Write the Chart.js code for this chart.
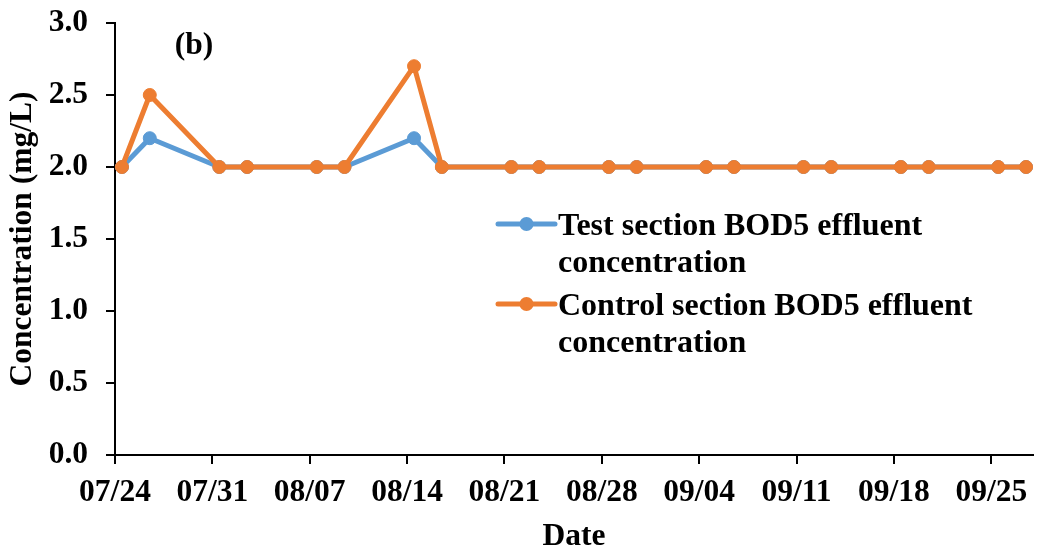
<!DOCTYPE html>
<html>
<head>
<meta charset="utf-8">
<script src="https://cdn.jsdelivr.net/npm/chart.js@4/dist/chart.umd.min.js"></script>
<style>
  html, body { margin: 0; padding: 0; background: #fff; }
  #wrap { width: 1041px; height: 553px; position: relative; }
</style>
</head>
<body>
<div id="wrap"><canvas id="c"></canvas></div>
<script>
// Sampling dates (MM/DD) and BOD5 effluent concentrations (mg/L)
const sampleDates = ['07/24', '07/26', '07/31', '08/02', '08/07', '08/09', '08/14', '08/16',
                     '08/21', '08/23', '08/28', '08/30', '09/04', '09/06', '09/11', '09/13',
                     '09/18', '09/20', '09/25', '09/27'];
const testBOD5    = [2.0, 2.2, 2.0, 2.0, 2.0, 2.0, 2.2, 2.0, 2.0, 2.0,
                     2.0, 2.0, 2.0, 2.0, 2.0, 2.0, 2.0, 2.0, 2.0, 2.0];
const controlBOD5 = [2.0, 2.5, 2.0, 2.0, 2.0, 2.0, 2.7, 2.0, 2.0, 2.0,
                     2.0, 2.0, 2.0, 2.0, 2.0, 2.0, 2.0, 2.0, 2.0, 2.0];

// Axis ticks
const dateTicks = ['07/24', '07/31', '08/07', '08/14', '08/21', '08/28', '09/04', '09/11', '09/18', '09/25'];
const axisStart = '07/24';
const axisEnd   = '09/28';
const concTicks = [0, 0.5, 1.0, 1.5, 2.0, 2.5, 3.0];

const seriesLabels = ['Test section BOD5 effluent concentration',
                      'Control section BOD5 effluent concentration'];
const panelLabel = '(b)';

// Days elapsed since the first axis date
function dayOf(md) {
  const [m, d] = md.split('/').map(Number);
  const [m0, d0] = axisStart.split('/').map(Number);
  return (Date.UTC(2020, m - 1, d) - Date.UTC(2020, m0 - 1, d0)) / 86400000;
}
// Each sample sits in the middle of its day slot
const toPoints = vals => vals.map((v, i) => ({ x: dayOf(sampleDates[i]) + 0.5, y: v }));

const FONT = "'Liberation Serif', 'Times New Roman', serif";
const BLUE = '#5B9BD5';
const ORANGE = '#ED7D31';
const LINE_W = 5;

// Two-line legend drawn inside the plot area
const boxLegend = {
  id: 'boxLegend',
  afterDraw(chart, args, opts) {
    const ctx = chart.ctx;
    ctx.save();
    ctx.font = `bold ${opts.size}px ${FONT}`;
    ctx.textAlign = 'left';
    ctx.textBaseline = 'alphabetic';
    let baseline = opts.top;
    chart.data.datasets.forEach(ds => {
      // wrap the label by words
      const words = ds.label.split(' ');
      const lines = [];
      let cur = '';
      words.forEach(w => {
        const t = cur ? cur + ' ' + w : w;
        if (ctx.measureText(t).width > opts.maxWidth && cur) { lines.push(cur); cur = w; }
        else cur = t;
      });
      if (cur) lines.push(cur);
      const my = baseline - opts.markerRise;
      ctx.strokeStyle = ds.borderColor;
      ctx.lineWidth = opts.lineWidth;
      ctx.lineCap = 'round';
      ctx.beginPath();
      ctx.moveTo(opts.left, my);
      ctx.lineTo(opts.left + opts.lineLen, my);
      ctx.stroke();
      ctx.fillStyle = ds.borderColor;
      ctx.beginPath();
      ctx.arc(opts.left + opts.lineLen / 2, my, opts.markerR, 0, Math.PI * 2);
      ctx.fill();
      ctx.fillStyle = '#000';
      lines.forEach((ln, k) => ctx.fillText(ln, opts.left + opts.lineLen + 3, baseline + k * opts.lineH));
      baseline += lines.length * opts.lineH + opts.gap;
    });
    ctx.restore();
  }
};

// Panel tag in the upper-left of the plot
const panelTag = {
  id: 'panelTag',
  afterDraw(chart, args, opts) {
    const ctx = chart.ctx;
    ctx.save();
    ctx.font = `bold ${opts.size}px ${FONT}`;
    ctx.fillStyle = '#000';
    ctx.textAlign = 'center';
    ctx.textBaseline = 'middle';
    ctx.fillText(opts.text, chart.chartArea.left + opts.dx, chart.chartArea.top + opts.dy);
    ctx.restore();
  }
};

const tickFont = { family: FONT, size: 31.5, weight: 'bold' };

new Chart(document.getElementById('c'), {
  type: 'line',
  data: {
    datasets: [
      {
        label: seriesLabels[0],
        data: toPoints(testBOD5),
        borderColor: BLUE, backgroundColor: BLUE,
        pointBackgroundColor: BLUE, pointBorderColor: BLUE,
        order: 1
      },
      {
        label: seriesLabels[1],
        data: toPoints(controlBOD5),
        borderColor: ORANGE, backgroundColor: ORANGE,
        pointBackgroundColor: ORANGE, pointBorderColor: ORANGE,
        order: 0
      }
    ]
  },
  options: {
    responsive: true,
    maintainAspectRatio: false,
    animation: false,
    layout: { padding: { top: 23, right: 8, left: 0, bottom: 0 } },
    elements: {
      line: { borderWidth: LINE_W, tension: 0, borderJoinStyle: 'round', fill: false },
      point: { radius: 6.5, borderWidth: 1, hoverRadius: 6.5 }
    },
    datasets: { line: { clip: false } },
    plugins: {
      legend: { display: false },
      tooltip: { enabled: false },
      boxLegend: { left: 498, top: 235, lineLen: 57, lineH: 37, gap: 6, markerRise: 11,
                   markerR: 7, size: 32, maxWidth: 445, lineWidth: LINE_W },
      panelTag: { text: panelLabel, size: 31.5, dx: 79, dy: 23 }
    },
    scales: {
      x: {
        type: 'linear',
        min: dayOf(axisStart),
        max: dayOf(axisEnd),
        afterBuildTicks: s => { s.ticks = dateTicks.map(d => ({ value: dayOf(d) })); },
        afterFit: s => { s.height = 98; },
        ticks: {
          autoSkip: false, maxRotation: 0, minRotation: 0,
          color: '#000', font: tickFont, padding: 10,
          callback: (v, i) => dateTicks[i]
        },
        grid: { drawOnChartArea: false, drawTicks: true, tickLength: 9, color: '#000', lineWidth: 2 },
        border: { display: true, color: '#000', width: 2 },
        title: { display: true, text: 'Date', color: '#000', font: tickFont, padding: { top: 0, bottom: -3 } }
      },
      y: {
        min: 0, max: 3,
        afterBuildTicks: s => { s.ticks = concTicks.map(v => ({ value: v })); },
        afterFit: s => { s.width = 115; s.paddingTop = 0; s.paddingBottom = 0; },
        ticks: {
          color: '#000', font: tickFont, padding: 18,
          callback: v => Number(v).toFixed(1)
        },
        grid: { drawOnChartArea: false, drawTicks: true, tickLength: 9, color: '#000', lineWidth: 2 },
        border: { display: true, color: '#000', width: 2 },
        title: { display: true, text: 'Concentration (mg/L)', color: '#000', font: tickFont, padding: { top: 4, bottom: 0 } }
      }
    }
  },
  plugins: [boxLegend, panelTag]
});
</script>
</body>
</html>
